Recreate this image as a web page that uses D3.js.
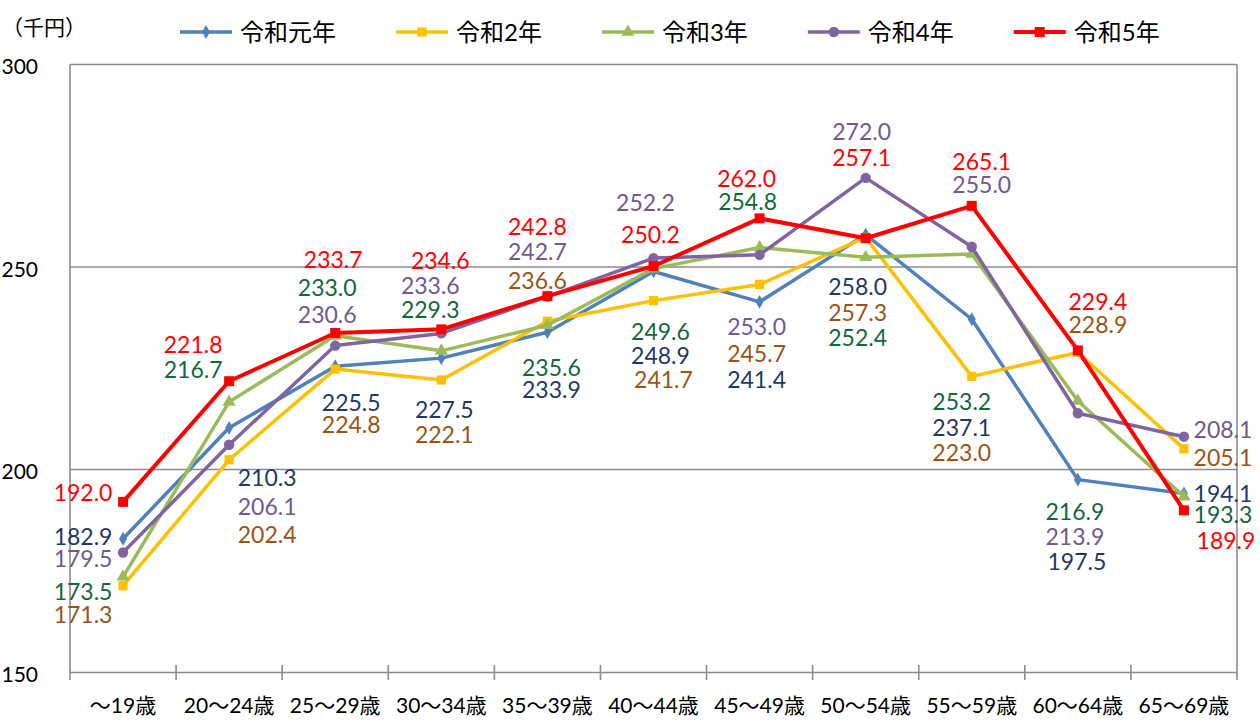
<!DOCTYPE html>
<html>
<head>
<meta charset="utf-8">
<script src="https://cdn.jsdelivr.net/npm/d3@7/dist/d3.min.js"></script>
<style>
  body { margin: 0; background: #ffffff; }
  text { font-family: Lato, 'Noto Sans CJK JP', sans-serif; }
</style>
</head>
<body>
<svg id="chart" width="1260" height="722"></svg>
<script>
/* global d3 */

const ageGroups = ['～19歳', '20～24歳', '25～29歳', '30～34歳', '35～39歳', '40～44歳',
  '45～49歳', '50～54歳', '55～59歳', '60～64歳', '65～69歳'];
const seriesNames = ['令和元年', '令和2年', '令和3年', '令和4年', '令和5年'];

const reiwa1 = [182.9, 210.3, 225.5, 227.5, 233.9, 248.9, 241.4, 258.0, 237.1, 197.5, 194.1];
const reiwa2 = [171.3, 202.4, 224.8, 222.1, 236.6, 241.7, 245.7, 257.3, 223.0, 228.9, 205.1];
const reiwa3 = [173.5, 216.7, 233.0, 229.3, 235.6, 249.6, 254.8, 252.4, 253.2, 216.9, 193.3];
const reiwa4 = [179.5, 206.1, 230.6, 233.6, 242.7, 252.2, 253.0, 272.0, 255.0, 213.9, 208.1];
const reiwa5 = [192.0, 221.8, 233.7, 234.6, 242.8, 250.2, 262.0, 257.1, 265.1, 229.4, 189.9];

const yTicks = [150, 200, 250, 300];
const unitLabel = '（千円）';

// hand-placed label nudges (px from the marker), one row per series
const labelShift = [
  [[-40, -2], [38, 50], [16, 36], [3, 52], [4, 58], [7, 84], [-3, 78], [-8, 52], [-10, 108], [-1, 82], [39, 0]],
  [[-40, 29], [38, 75], [16, 56], [3, 55], [-10, -41], [10, 79], [-3, 69], [-8, 75], [-10, 76], [20, -28], [39, 9]],
  [[-40, 15], [-36, -32], [-8, -48], [-11, -41], [4, 42], [7, 63], [-12, -46], [-8, 80], [-10, 148], [-3, 111], [39, 18]],
  [[-40, 6], [38, 62], [-8, -31], [-11, -48], [-10, -45], [-8, -55], [-3, 72], [-4, -46], [10, -62], [-3, 124], [39, -7]],
  [[-40, -9], [-36, -36], [-2, -73], [-1, -69], [-10, -69], [-3, -31], [-13, -40], [-4, -81], [10, -44], [20, -49], [42, 30]],
];

const lineColors = ['#4f81bd', '#ffc000', '#9bbb59', '#8064a2', '#ff0000'];
const labelColors = ['#1f3864', '#9c5314', '#11683a', '#70598f', '#ff0000'];
const markerTypes = [d3.symbolDiamond, d3.symbolSquare, d3.symbolTriangle, d3.symbolCircle, d3.symbolSquare];
const markerSizes = [55, 85, 75, 85, 100];

const allSeries = [reiwa1, reiwa2, reiwa3, reiwa4, reiwa5];

const svg = d3.select('#chart');
const plot = { left: 70, right: 1237, top: 64.5, bottom: 672 };
const axisGray = '#8c8c8c';

const x = d3.scaleBand().domain(ageGroups).range([plot.left, plot.right]);
const y = d3.scaleLinear().domain([150, 300]).range([plot.bottom, plot.top]);
const cx = (i) => x(ageGroups[i]) + x.bandwidth() / 2;

// gridlines + frame
svg.append('g')
  .selectAll('line')
  .data(yTicks.filter((t) => t > 150))
  .join('line')
  .attr('x1', plot.left)
  .attr('x2', plot.right)
  .attr('y1', (d) => y(d))
  .attr('y2', (d) => y(d))
  .attr('stroke', axisGray)
  .attr('stroke-width', 1.6);

svg.append('line')
  .attr('x1', plot.right).attr('x2', plot.right)
  .attr('y1', plot.top).attr('y2', plot.bottom + 8)
  .attr('stroke', axisGray).attr('stroke-width', 1.6);

// y axis
const yAxis = svg.append('g')
  .attr('transform', `translate(${plot.left},0)`)
  .call(d3.axisLeft(y).tickValues(yTicks).tickSize(0).tickPadding(32));
yAxis.select('.domain').remove();
yAxis.selectAll('text')
  .attr('font-size', 21)
  .attr('fill', '#000')
  .attr('dy', '0.45em');

svg.append('line')
  .attr('x1', plot.left).attr('x2', plot.left)
  .attr('y1', plot.top).attr('y2', plot.bottom + 8)
  .attr('stroke', axisGray).attr('stroke-width', 1.6);

// x axis
const xAxis = svg.append('g')
  .attr('transform', `translate(0,${plot.bottom})`)
  .call(d3.axisBottom(x).tickSize(0));
xAxis.select('.domain')
  .attr('stroke', axisGray)
  .attr('stroke-width', 1.6);
xAxis.selectAll('text')
  .attr('font-size', 21)
  .attr('fill', '#000')
  .attr('y', 34)
  .attr('dy', '0.35em');

const boundaries = ageGroups.map((d) => x(d)).concat([plot.right]);
svg.append('g')
  .selectAll('line')
  .data(boundaries.slice(1, -1))
  .join('line')
  .attr('x1', (d) => d)
  .attr('x2', (d) => d)
  .attr('y1', plot.bottom - 7)
  .attr('y2', plot.bottom + 8)
  .attr('stroke', axisGray)
  .attr('stroke-width', 1.6);

// unit label
svg.append('text')
  .attr('x', 2)
  .attr('y', 28)
  .attr('dy', '0.35em')
  .attr('font-size', 21)
  .text(unitLabel);

// series lines and markers
const line = d3.line().x((d, i) => cx(i)).y((d) => y(d));

allSeries.forEach((vals, s) => {
  const g = svg.append('g');
  g.append('path')
    .datum(vals)
    .attr('d', line)
    .attr('fill', 'none')
    .attr('stroke', lineColors[s])
    .attr('stroke-width', s === 4 ? 4 : 3.5)
    .attr('stroke-linejoin', 'round');
  g.selectAll('path.mk')
    .data(vals)
    .join('path')
    .attr('class', 'mk')
    .attr('transform', (d, i) => `translate(${cx(i)},${y(d)})`)
    .attr('d', d3.symbol().type(markerTypes[s]).size(markerSizes[s]))
    .attr('fill', lineColors[s]);
});

// data labels
allSeries.forEach((vals, s) => {
  svg.append('g')
    .selectAll('text')
    .data(vals)
    .join('text')
    .attr('x', (d, i) => cx(i) + labelShift[s][i][0])
    .attr('y', (d, i) => y(d) + labelShift[s][i][1])
    .attr('dy', '0.36em')
    .attr('text-anchor', 'middle')
    .attr('font-size', 23)
    .attr('fill', labelColors[s])
    .text((d) => d.toFixed(1));
});

// legend
const legend = svg.append('g').attr('transform', 'translate(180,32)');
let lx = 0;
seriesNames.forEach((name, s) => {
  const item = legend.append('g').attr('transform', `translate(${lx},0)`);
  item.append('line')
    .attr('x1', 0).attr('x2', 52)
    .attr('stroke', lineColors[s])
    .attr('stroke-width', s === 4 ? 4 : 3.5);
  item.append('path')
    .attr('transform', 'translate(26,0)')
    .attr('d', d3.symbol().type(markerTypes[s]).size(markerSizes[s]))
    .attr('fill', lineColors[s]);
  const t = item.append('text')
    .attr('x', 60)
    .attr('dy', '0.36em')
    .attr('font-size', 24)
    .text(name);
  lx += 60 + t.node().getComputedTextLength() + 60;
});
</script>
</body>
</html>
